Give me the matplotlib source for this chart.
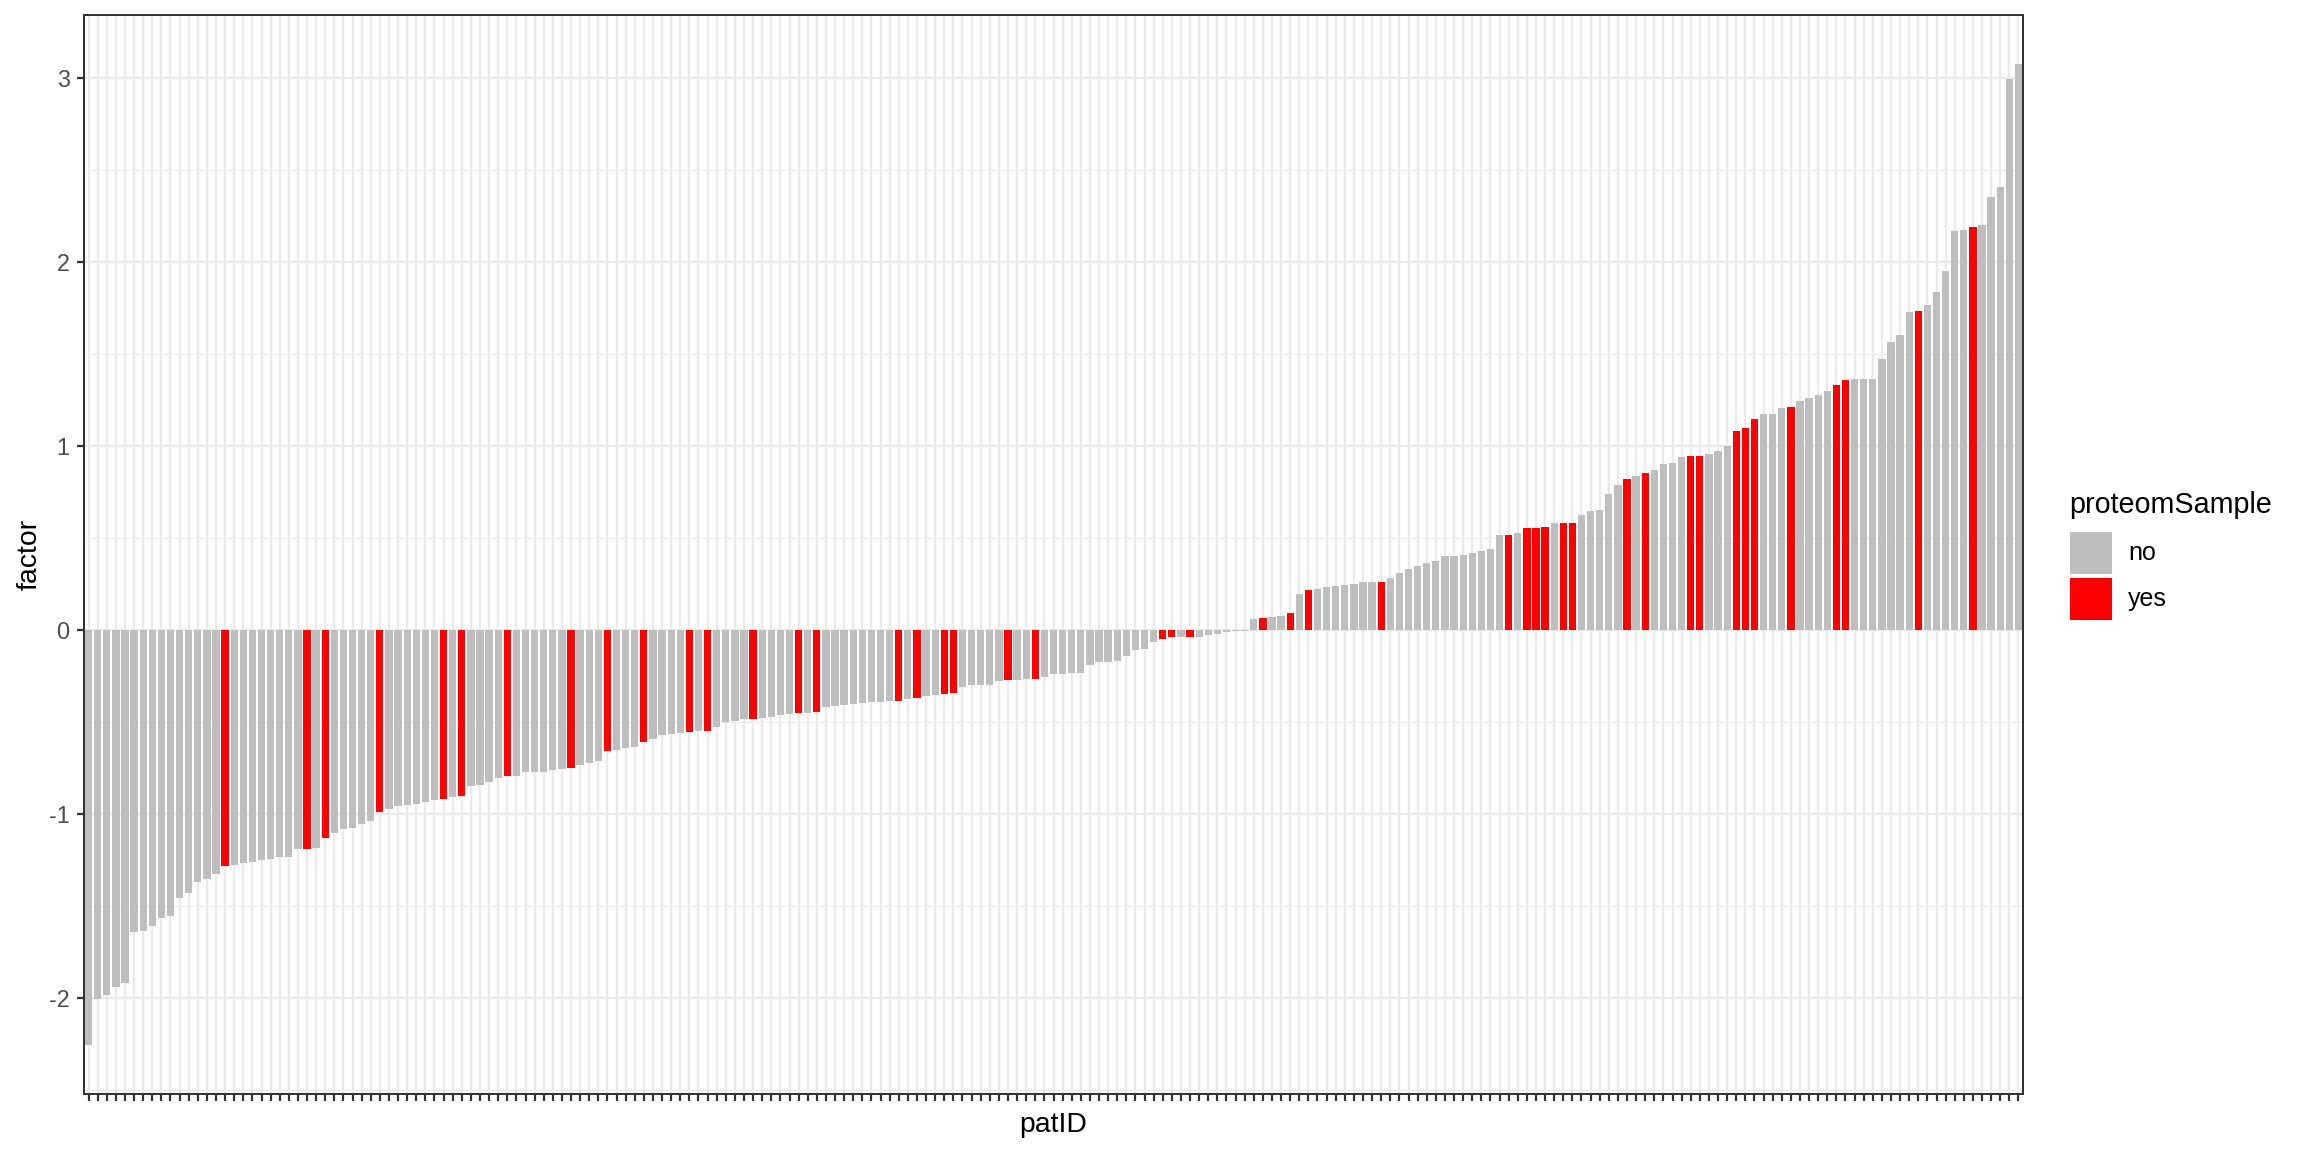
import matplotlib
matplotlib.use("Agg")
import matplotlib.pyplot as plt
from matplotlib.patches import Patch
from matplotlib.ticker import MultipleLocator

# factor score per patient, sorted ascending
factor_values = [
    -2.254, -2.005, -1.984, -1.940, -1.918, -1.639, -1.634, -1.609, -1.565, -1.554,
    -1.457, -1.429, -1.370, -1.353, -1.326, -1.283, -1.277, -1.266, -1.261, -1.250,
    -1.245, -1.234, -1.234, -1.190, -1.190, -1.183, -1.130, -1.103, -1.082, -1.076,
    -1.054, -1.036, -0.987, -0.973, -0.957, -0.950, -0.944, -0.933, -0.922, -0.917,
    -0.906, -0.900, -0.846, -0.841, -0.824, -0.803, -0.792, -0.792, -0.770, -0.770,
    -0.770, -0.759, -0.754, -0.748, -0.732, -0.721, -0.710, -0.656, -0.650, -0.639,
    -0.634, -0.607, -0.591, -0.569, -0.563, -0.558, -0.553, -0.547, -0.547, -0.525,
    -0.498, -0.493, -0.482, -0.482, -0.476, -0.471, -0.460, -0.455, -0.449, -0.449,
    -0.444, -0.417, -0.411, -0.406, -0.400, -0.395, -0.389, -0.389, -0.384, -0.384,
    -0.373, -0.368, -0.357, -0.351, -0.346, -0.341, -0.308, -0.297, -0.297, -0.297,
    -0.275, -0.270, -0.270, -0.264, -0.264, -0.254, -0.239, -0.239, -0.234, -0.234,
    -0.190, -0.174, -0.174, -0.168, -0.141, -0.109, -0.103, -0.065, -0.049, -0.038,
    -0.038, -0.038, -0.038, -0.027, -0.022, -0.011, -0.005, -0.002, 0.060, 0.065,
    0.071, 0.076, 0.092, 0.196, 0.217, 0.223, 0.234, 0.239, 0.245, 0.250,
    0.261, 0.261, 0.261, 0.283, 0.310, 0.332, 0.348, 0.364, 0.375, 0.402,
    0.402, 0.408, 0.418, 0.429, 0.440, 0.516, 0.516, 0.527, 0.554, 0.554,
    0.560, 0.582, 0.582, 0.582, 0.625, 0.647, 0.652, 0.739, 0.788, 0.821,
    0.837, 0.853, 0.870, 0.902, 0.908, 0.944, 0.946, 0.949, 0.958, 0.976,
    1.001, 1.084, 1.100, 1.150, 1.175, 1.175, 1.210, 1.214, 1.246, 1.262,
    1.281, 1.301, 1.333, 1.361, 1.368, 1.368, 1.368, 1.475, 1.566, 1.605,
    1.731, 1.735, 1.767, 1.838, 1.952, 2.170, 2.177, 2.193, 2.202, 2.355,
    2.410, 2.996, 3.078,
]

# positions (in sorted order) of patients that have a proteome sample
proteom_yes = [15, 24, 26, 32, 39, 41, 46, 53, 57, 61, 66, 68, 73, 78, 80, 89,
               91, 94, 95, 101, 104, 118, 119, 121, 129, 132, 134, 142, 156, 158,
               159, 160, 162, 163, 169, 171, 176, 177, 181, 182, 183, 187, 192,
               193, 201, 207]

proteom_sample = ["yes" if i in proteom_yes else "no" for i in range(len(factor_values))]
fill_colors = {"no": "#BEBEBE", "yes": "#FF0000"}

plt.rcParams["font.family"] = ["Liberation Sans", "DejaVu Sans"]
plt.rcParams["axes.unicode_minus"] = False

W, H = 2304, 1152
fig = plt.figure(figsize=(16, 8), dpi=144)
ax = fig.add_axes([84 / W, 1 - 1094 / H, (2023 - 84) / W, (1094 - 15) / H])

n = len(factor_values)
x = list(range(n))
ax.bar(x, factor_values, width=0.8,
       color=[fill_colors[s] for s in proteom_sample], zorder=2)

ax.set_xlim(-0.5, n - 0.5)
ax.set_ylim(-2.521, 3.345)
ax.set_xticks(x)
ax.set_xticklabels([""] * n)
ax.yaxis.set_major_locator(MultipleLocator(1))
ax.yaxis.set_minor_locator(MultipleLocator(0.5))

# light grid behind the bars, like theme_bw
ax.set_axisbelow(True)
ax.grid(axis="x", which="major", color="#EBEBEB", linewidth=1.2)
ax.grid(axis="y", which="major", color="#EBEBEB", linewidth=1.2)
ax.grid(axis="y", which="minor", color="#EBEBEB", linewidth=0.6)

for s in ax.spines.values():
    s.set_color("#333333")
    s.set_linewidth(1.0)
    s.set_zorder(3)

ax.tick_params(axis="both", which="major", direction="out", length=3.7, width=1.1,
               color="#333333", labelcolor="#4D4D4D", labelsize=11.7, pad=3.5)
ax.tick_params(axis="y", which="minor", length=0)

ax.set_xlabel("patID", fontsize=14.2)
ax.xaxis.set_label_coords(0.5, -(1112 - 1094) / (1094 - 15))
ax.set_ylabel("factor", fontsize=14.2)
ax.yaxis.set_label_coords(-(84 - 43) / (2023 - 84), 0.5)

# legend
fig.text(2069 / W, 1 - 513 / H, "proteomSample", fontsize=14.4,
         ha="left", va="baseline")
handles = [Patch(facecolor=fill_colors[k], edgecolor="none", label=k) for k in ["no", "yes"]]
fig.legend(handles=handles, loc="upper left", bbox_to_anchor=(2070 / W, 1 - 531.5 / H),
           frameon=False, fontsize=12.5, handlelength=1.68, handleheight=2.208,
           handletextpad=0.64, labelspacing=0.16, borderpad=0, borderaxespad=0)

fig.savefig("out.png", dpi=144)
